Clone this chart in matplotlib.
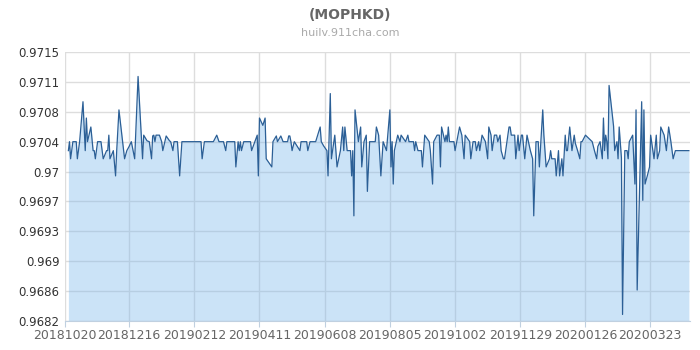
import pandas as pd
import matplotlib
matplotlib.use("Agg")
import matplotlib.pyplot as plt

start = pd.Timestamp("2018-10-20")

# day offsets from 2018-10-20 and the MOP/HKD rate
days = [3, 4, 5, 7, 10, 11, 13, 16, 18, 19, 20, 23, 25, 26, 27, 29, 32, 34, 37, 38,
        39, 40, 43, 45, 46, 48, 53, 55, 57, 59, 62, 65, 69, 70, 73, 75, 77, 78, 79, 80,
        81, 83, 84, 86, 87, 90, 93, 94, 96, 97, 100, 102, 104, 121, 122, 124, 132, 135, 137, 141,
        143, 144, 151, 152, 154, 155, 156, 157, 159, 165, 166, 171, 172, 173, 176, 178, 179, 184, 185, 188,
        189, 192, 194, 198, 199, 200, 201, 202, 204, 209, 210, 215, 216, 218, 223, 227, 228, 230, 233, 234,
        236, 237, 240, 242, 245, 247, 248, 249, 251, 254, 255, 256, 257, 258, 261, 263, 264, 266, 268, 269,
        271, 276, 277, 279, 281, 283, 286, 289, 290, 291, 292, 293, 296, 298, 299, 301, 303, 305, 306, 310,
        311, 312, 314, 317, 318, 320, 324, 325, 327, 328, 331, 333, 334, 335, 338, 339, 340, 341, 342, 346,
        347, 351, 353, 355, 356, 360, 361, 363, 365, 366, 368, 369, 371, 374, 376, 377, 379, 380, 382, 384,
        385, 387, 388, 390, 391, 395, 396, 397, 400, 401, 403, 404, 406, 407, 409, 411, 414, 416, 417, 419,
        421, 422, 425, 426, 428, 431, 432, 433, 436, 437, 439, 440, 442, 443, 445, 446, 447, 449, 451, 453,
        454, 456, 458, 459, 460, 463, 469, 471, 473, 474, 476, 478, 479, 480, 481, 482, 483, 484, 488, 489,
        491, 492, 493, 495, 496, 498, 500, 501, 502, 505, 507, 508, 509, 513, 514, 515, 516, 518, 520, 521,
        524, 526, 527, 529, 530, 533, 535, 537, 539, 541, 543, 555]
rates = [0.97029, 0.9704, 0.97019, 0.9704, 0.9704, 0.97019, 0.9704, 0.97089, 0.97029, 0.97069,
         0.9704, 0.97058, 0.97029, 0.97029, 0.97019, 0.9704, 0.9704, 0.97019, 0.97029, 0.97029,
         0.97048, 0.97019, 0.97029, 0.96998, 0.97029, 0.97079, 0.97019, 0.97029, 0.97034, 0.9704,
         0.97019, 0.9712, 0.97019, 0.97048, 0.97041, 0.9704, 0.97019, 0.97047, 0.97048, 0.9704,
         0.97048, 0.97048, 0.97048, 0.9704, 0.97029, 0.97047, 0.97041, 0.9704, 0.97029, 0.9704,
         0.9704, 0.96998, 0.9704, 0.9704, 0.97019, 0.9704, 0.9704, 0.97048, 0.9704, 0.9704,
         0.97029, 0.9704, 0.9704, 0.97009, 0.9704, 0.97029, 0.9704, 0.97029, 0.9704, 0.9704,
         0.97029, 0.97048, 0.96998, 0.97069, 0.9706, 0.97069, 0.97019, 0.97009, 0.9704, 0.97047,
         0.9704, 0.97047, 0.9704, 0.9704, 0.97047, 0.97047, 0.9704, 0.97029, 0.9704, 0.97029,
         0.9704, 0.9704, 0.97029, 0.9704, 0.9704, 0.97058, 0.9704, 0.97035, 0.97029, 0.96998,
         0.97099, 0.97019, 0.97048, 0.97009, 0.97029, 0.97058, 0.97029, 0.97058, 0.97029, 0.97029,
         0.96998, 0.97029, 0.96949, 0.97079, 0.9704, 0.97058, 0.97009, 0.9704, 0.97048, 0.96979,
         0.9704, 0.9704, 0.97058, 0.97048, 0.96998, 0.9704, 0.97029, 0.97079, 0.97009, 0.9704,
         0.96988, 0.97029, 0.97048, 0.9704, 0.97048, 0.97044, 0.9704, 0.97048, 0.9704, 0.9704,
         0.97029, 0.9704, 0.97029, 0.97029, 0.97009, 0.97048, 0.9704, 0.97029, 0.96988, 0.9704,
         0.97048, 0.97048, 0.97009, 0.97058, 0.9704, 0.97048, 0.9704, 0.97058, 0.9704, 0.9704,
         0.97029, 0.97058, 0.97048, 0.97019, 0.97048, 0.9704, 0.97019, 0.9704, 0.9704, 0.97029,
         0.9704, 0.97029, 0.97048, 0.9704, 0.97019, 0.97058, 0.97048, 0.97029, 0.97048, 0.97048,
         0.9704, 0.97048, 0.97029, 0.97019, 0.97019, 0.97058, 0.97058, 0.97048, 0.97048, 0.97019,
         0.97048, 0.97029, 0.97048, 0.97048, 0.97019, 0.97048, 0.97029, 0.97019, 0.96949, 0.9704,
         0.9704, 0.97009, 0.97079, 0.97048, 0.97009, 0.97019, 0.97029, 0.97019, 0.97019, 0.96998,
         0.97029, 0.96998, 0.97019, 0.96998, 0.97048, 0.97029, 0.97029, 0.97058, 0.97029, 0.97048,
         0.97038, 0.97029, 0.97019, 0.9704, 0.9704, 0.97048, 0.9704, 0.97029, 0.97019, 0.97034,
         0.9704, 0.97019, 0.97069, 0.97029, 0.97048, 0.9704, 0.97019, 0.97109, 0.97059, 0.97029,
         0.9704, 0.97019, 0.97058, 0.9702, 0.96828, 0.97029, 0.97029, 0.97019, 0.9704, 0.97048,
         0.96988, 0.97079, 0.96858, 0.97089, 0.96968, 0.97079, 0.96988, 0.96998, 0.97009, 0.97048,
         0.97019, 0.97048, 0.97019, 0.97029, 0.97058, 0.97048, 0.97029, 0.97058, 0.9704, 0.97019,
         0.97029, 0.97029]

tick_dates = ["2018-10-20", "2018-12-16", "2019-02-12", "2019-04-11", "2019-06-08",
              "2019-08-05", "2019-10-02", "2019-11-29", "2020-01-26", "2020-03-23"]
tick_labels = ["20181020", "20181216", "20190212", "20190411", "20190608",
               "20190805", "20191002", "20191129", "20200126", "20200323"]
y_labels = ["0.9682", "0.9686", "0.969", "0.9693", "0.9697",
            "0.97", "0.9704", "0.9708", "0.9711", "0.9715"]
y_min, y_max = 0.9682, 0.9715

dates = start + pd.to_timedelta(days, unit="D")

plt.rcParams["font.family"] = "DejaVu Sans"
fig = plt.figure(figsize=(7, 3.5), dpi=100)
ax = fig.add_axes([65 / 700, 29 / 350, 625 / 700, 269 / 350])

# translucent fill so the grid shows through, as in the original
ax.fill_between(dates, rates, y_min, color="#7fb9ec", alpha=0.4, linewidth=0)
ax.plot(dates, rates, color="#2b5f96", linewidth=0.9)

ax.set_ylim(y_min, y_max)
ax.set_xlim(start, start + pd.Timedelta(days=556))
yt = [y_min + i * (y_max - y_min) / 9 for i in range(10)]
ax.set_yticks(yt)
ax.set_yticklabels(y_labels, fontsize=8.5, color="#333333")
ax.set_xticks(pd.to_datetime(tick_dates))
ax.set_xticklabels(tick_labels, fontsize=9, color="#666666")

ax.set_axisbelow(True)
ax.grid(True, color="#dddddd", linewidth=1)
for s in ["top", "right", "left"]:
    ax.spines[s].set_visible(False)
ax.spines["bottom"].set_color("#c0d0e0")
ax.tick_params(axis="y", length=0, pad=4)
ax.tick_params(axis="x", length=4, color="#c0d0e0", pad=2)

fig.text(0.5, 1 - 15 / 350, "(MOPHKD)", ha="center", va="center",
         fontsize=10, fontweight="bold", color="#666666")
fig.text(0.5, 1 - 33 / 350, "huilv.911cha.com", ha="center", va="center",
         fontsize=8, color="#aaaaaa")

fig.savefig("out.png", dpi=100)
